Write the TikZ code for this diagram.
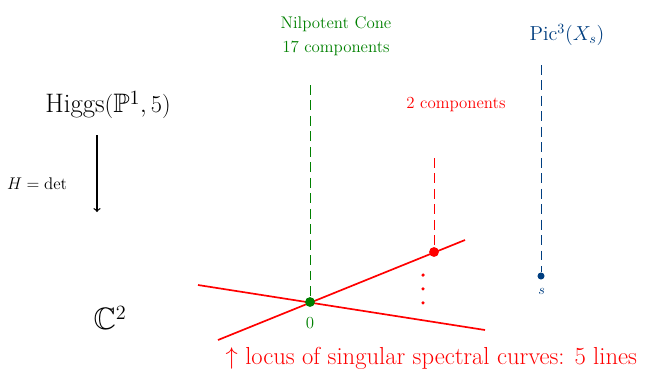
\documentclass[tikz,border=0pt]{standalone}
\usepackage{xcolor}
\usepackage{amsmath,amssymb}
\usepackage{tikz}
\usetikzlibrary{arrows, positioning, calc}
\definecolor{nilgreen}{RGB}{0,128,0}
\definecolor{picblue}{RGB}{0,62,128}
\tikzstyle{fibre} = [line width=0.6pt, dash pattern=on 7pt off 4pt]
\tikzstyle{arrow} = [line width=0.9pt,->,>=to]

\begin{document}
\begin{tikzpicture}[
    x=0.025cm, y=-0.025cm,
    dot/.style={circle, fill, inner sep=0pt, minimum size=#1},
    dot/.default=5pt,
    txt/.style={inner sep=1pt, font=\large},
    spectral/.style={red, line width=1.2pt}
  ]
    \useasboundingbox (0,0) rectangle (648,383);

    % Higgs space and the Hitchin map
    \node[txt, font=\fontsize{19}{22}\selectfont] (higgs) at (108,105) {Higgs$(\mathbb{P}^1,5)$};
    \coordinate (mapTop) at (97,135);
    \coordinate (mapBot) at (97,212);
    \draw[arrow] (mapTop) -- (mapBot);
    \node[txt, left=20pt of mapBot, yshift=20pt] (hdet) {$H=\det$};
    \node[txt, font=\fontsize{22}{26}\selectfont] (base) at (110,318) {$\mathbb{C}^2$};

    % Spectral lines in the base
    \coordinate (lineAs) at (198,285);
    \coordinate (lineAe) at (485,330);
    \coordinate (lineBs) at (218,340);
    \coordinate (lineBe) at (465,240);
    \draw[spectral] (lineAs) -- (lineAe);
    \draw[spectral] (lineBs) -- (lineBe);

    % Nilpotent cone over 0
    \node[dot=7pt, nilgreen] (origin) at (310,302) {};
    \node[txt, nilgreen, below=6pt of origin] (zero) {$0$};
    \coordinate (nilTop) at (310,85);
    \draw[fibre, nilgreen] (nilTop) -- (origin);
    \node[txt, nilgreen, align=center] (nilcone) at (336,36) {Nilpotent Cone\\[3pt]17 components};

    % Fibre over a point on one line
    \node[dot=7pt, red] (linept) at (434,252) {};
    \coordinate (lineTop) at (434,158);
    \draw[fibre, red] (lineTop) -- (linept);
    \node[txt, red] (twocomp) at (456,105) {2 components};
    \node[dot=2.5pt, red] (vdotA) at (423,275) {};
    \node[dot=2.5pt, red, below=7pt of vdotA] (vdotB) {};
    \node[dot=2.5pt, red, below=7pt of vdotB] (vdotC) {};

    % Smooth fibre over s
    \node[dot=5pt, picblue] (spt) at (541,276) {};
    \node[txt, font=\normalsize, picblue, below right=6pt and -5pt of spt] (slab) {$s$};
    \coordinate (picTop) at (541,65);
    \draw[fibre, picblue] (picTop) -- (spt);
    \node[txt, picblue, font=\Large] (pic) at (567,35) {Pic$^3(X_s)$};

    % Caption
    \node[txt, red, anchor=west, font=\fontsize{17.5}{21}\selectfont] (locus) at (224,358) {$\uparrow$ locus of singular spectral curves: 5 lines};
  \end{tikzpicture}
\end{document}
